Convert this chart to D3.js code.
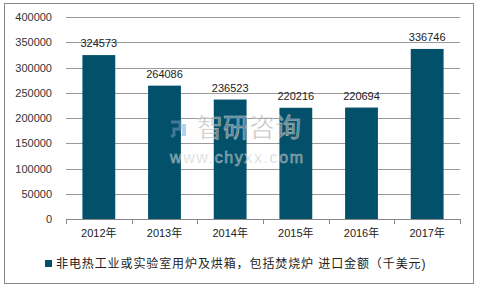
<!DOCTYPE html>
<html><head><meta charset="utf-8">
<script src="https://cdn.jsdelivr.net/npm/d3@7"></script>
<style>body{margin:0;background:#fff}svg{display:block}text{font-family:"Liberation Sans",Arial,"Noto Sans CJK SC",sans-serif}</style>
</head><body><svg id="c" width="478" height="287"></svg>
<script>
const categories = ["2012年","2013年","2014年","2015年","2016年","2017年"];
const values = [324573,264086,236523,220216,220694,336746];
const yTicks = [0,50000,100000,150000,200000,250000,300000,350000,400000];
const seriesName = "非电热工业或实验室用炉及烘箱，包括焚烧炉 进口金额（千美元)";

const svg = d3.select("#c");
svg.append("rect").attr("x",4.5).attr("y",3.5).attr("width",469).attr("height",280).attr("fill","#fff").attr("stroke","#888").attr("stroke-width",1);

const x0=66,x1=460,yTop=17,yBot=219;
const x = d3.scaleBand().domain(categories).range([x0,x1]).paddingInner(0.5).paddingOuter(0.25);
const xb = d3.scaleBand().domain(categories).range([x0,x1]);
const y = d3.scaleLinear().domain([0,400000]).range([yBot,yTop]);

svg.append("g").selectAll("line").data(yTicks.slice(1)).join("line")
  .attr("x1",x0).attr("x2",x1).attr("y1",d=>Math.round(y(d))+0.5).attr("y2",d=>Math.round(y(d))+0.5)
  .attr("stroke","#9a9a9a");

const yAxis = svg.append("g").attr("transform",`translate(${x0},0)`)
  .call(d3.axisLeft(y).tickValues(yTicks).tickSize(0).tickPadding(14).tickFormat(d3.format("d")));
yAxis.select(".domain").remove();
yAxis.selectAll("text").attr("font-size",11).attr("fill","#333");

svg.append("g").selectAll("rect").data(values).join("rect")
  .attr("x",(d,i)=>x(categories[i])).attr("width",x.bandwidth())
  .attr("y",d=>y(d)).attr("height",d=>yBot-y(d)).attr("fill","#03506a");

svg.append("g").selectAll("text").data(values).join("text")
  .attr("x",(d,i)=>x(categories[i])+x.bandwidth()/2).attr("y",d=>y(d)-8)
  .attr("text-anchor","middle").attr("font-size",11).attr("fill","#222").text(d=>d);

// watermark (on top)
const wm = svg.append("g").attr("opacity",0.6);
wm.append("text").attr("x",197).attr("y",137).attr("font-size",26).attr("fill","#9a9a9a").attr("stroke","#fff").attr("stroke-width",0.6).attr("font-family","Noto Sans CJK SC").text("智研咨询");
wm.append("text").attr("x",170).attr("y",163).attr("font-size",16).attr("fill","#9a9a9a").attr("stroke","#fff").attr("stroke-width",0.5).attr("letter-spacing",1.6).text("www.chyxx.com");
wm.append("path").attr("d","M171,122 h9 v7 h-6 v7 M174,136 h-3").attr("fill","none").attr("stroke","#6f90b5").attr("stroke-width",3);
wm.append("rect").attr("x",182).attr("y",124).attr("width",4).attr("height",12).attr("fill","#7fb8e0");

const xAxis = svg.append("g").attr("transform",`translate(0,${yBot})`)
  .call(d3.axisBottom(xb).tickSize(0).tickPadding(10));
xAxis.select(".domain").attr("stroke","#888");
xAxis.selectAll("text").attr("font-size",11).attr("fill","#222");
svg.append("g").selectAll("line").data(d3.range(categories.length+1)).join("line")
  .attr("x1",i=>Math.round(x0+i*xb.step())+0.5).attr("x2",i=>Math.round(x0+i*xb.step())+0.5)
  .attr("y1",yBot).attr("y2",yBot+5).attr("stroke","#888");

const lg = svg.append("g");
lg.append("rect").attr("x",45).attr("y",260).attr("width",7).attr("height",7).attr("fill","#03506a");
lg.append("text").attr("x",56).attr("y",268).attr("font-size",12).attr("letter-spacing",0.9).attr("fill","#222").text(seriesName);
</script></body></html>
